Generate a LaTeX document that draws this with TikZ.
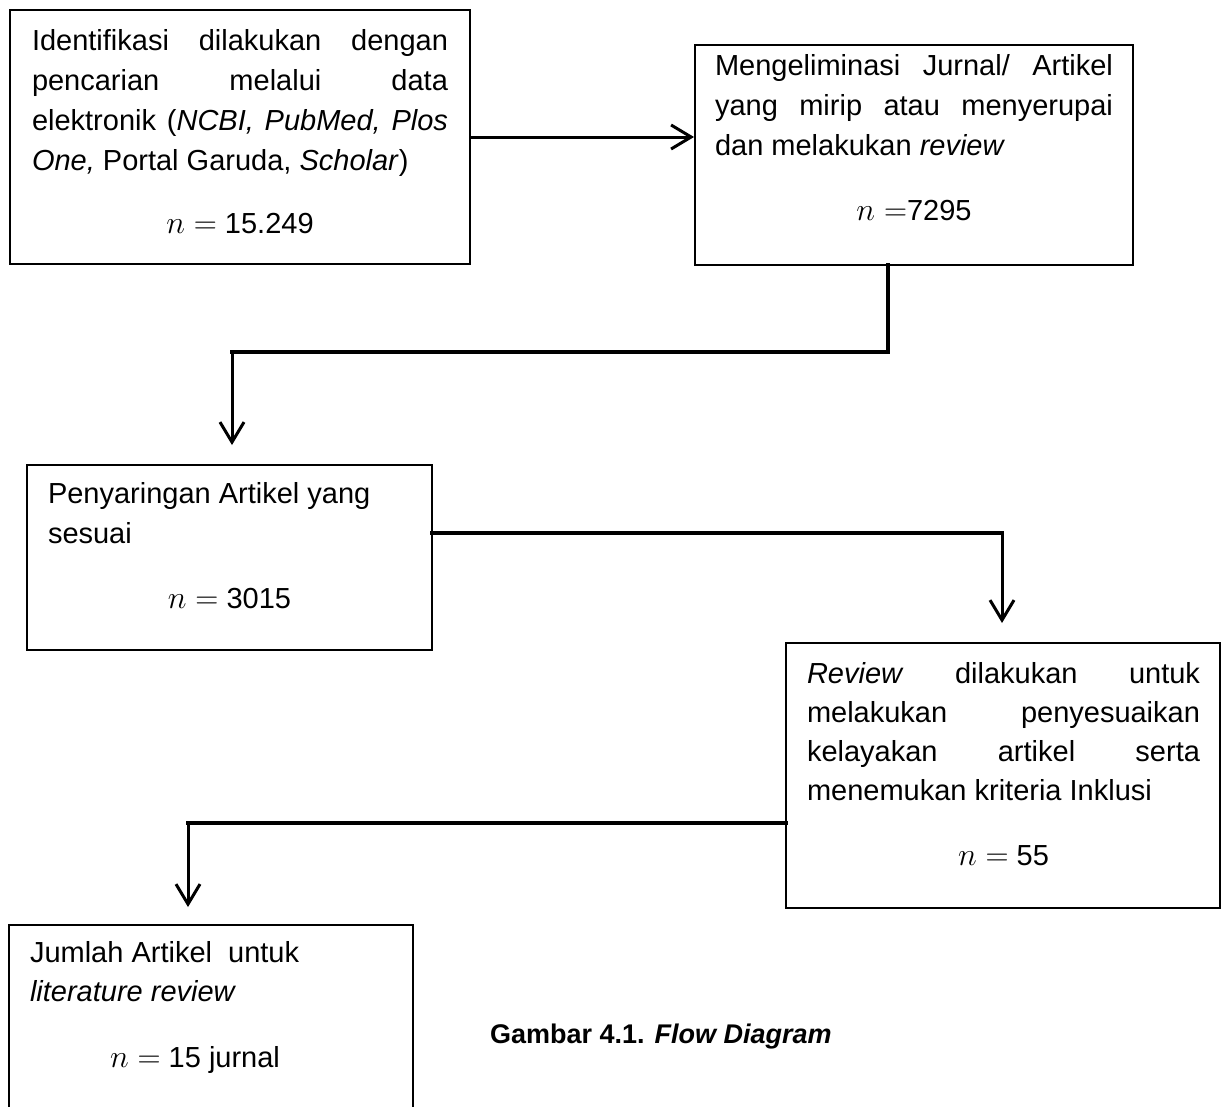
\RequirePackage{fix-cm}
\documentclass[tikz,border=0pt]{standalone}
\usepackage{fontspec}
\setmainfont{Liberation Sans}
\usetikzlibrary{arrows.meta}
\newcommand\lineJ[1]{\hbox to\hsize{#1}}
\newcommand\lineL[1]{\hbox to\hsize{#1\hfil}}
\newcommand\lineC[1]{\hbox to\hsize{\hfil#1\hfil}}
\newcommand\nEq{{\fontsize{32}{40}\selectfont$n=$}}
\tikzset{
  box/.style={draw=black, line width=1.5pt, inner sep=0pt, outer sep=0pt, anchor=north west},
  txt/.style={inner sep=0pt, outer sep=0pt, anchor=base west, font=\fontsize{29}{40}\selectfont},
  link/.style={draw=black, line width=4.5pt, line cap=rect},
  arr/.style={draw=black, line width=3pt, -{Straight Barb[length=20pt,width=24pt]}},
}
\begin{document}
\begin{tikzpicture}[x=1pt,y=-1pt]
\path[use as bounding box] (0,0) rectangle (1222,1106);
\clip (0,0) rectangle (1222,1106);
% boxes
\node[box, minimum width=460pt, minimum height=254pt] (b1) at (10,10) {};
\node[box, minimum width=438pt, minimum height=220pt] (b2) at (695,45) {};
\node[box, minimum width=405pt, minimum height=185pt] (b3) at (27,465) {};
\node[box, minimum width=434pt, minimum height=265pt] (b4) at (786,643) {};
\node[box, minimum width=404pt, minimum height=220pt] (b5) at (9,925) {};
% texts
\node[txt] (t1) at (32,50) {\parbox[t]{416pt}{%
\lineJ{Identifikasi\hfill dilakukan\hfill dengan}
\lineJ{pencarian\hfill melalui\hfill data}
\lineJ{elektronik\hfill(\textit{NCBI,}\hfill\textit{PubMed,}\hfill\textit{Plos}}
\lineL{\textit{One,} Portal Garuda, \textit{Scholar})}
\vskip 23pt
\lineC{\nEq\ 15.249}}};
\node[txt] (t2) at (715,75) {\parbox[t]{398pt}{%
\lineJ{Mengeliminasi\hfill Jurnal/\hfill Artikel}
\lineJ{yang\hfill mirip\hfill atau\hfill menyerupai}
\lineL{dan melakukan \textit{review}}
\vskip 25pt
\lineC{\nEq7295}}};
\node[txt] (t3) at (48,503) {\parbox[t]{363pt}{%
\lineL{Penyaringan Artikel yang}
\lineL{sesuai}
\vskip 25pt
\lineC{\nEq\ 3015}}};
\node[txt] (t4) at (807,683) {\parbox[t]{393pt}{\baselineskip=39.3pt
\lineJ{\textit{Review}\hfill dilakukan\hfill untuk}
\lineJ{melakukan\hfill penyesuaikan}
\lineJ{kelayakan\hfill artikel\hfill serta}
\lineL{menemukan kriteria Inklusi}
\vskip 25pt
\lineC{\nEq\ 55}}};
\node[txt] (t5) at (30,962) {\parbox[t]{330pt}{\baselineskip=39pt
\lineL{Jumlah Artikel\ \ untuk}
\lineL{\textit{literature review}}
\vskip 27pt
\lineC{\nEq\ 15 jurnal}}};
\node[txt, font=\fontsize{27}{32}\selectfont\bfseries] (cap) at (490,1043) {Gambar 4.1. \textit{Flow Diagram}};
% connectors
\coordinate (c0) at (888,352);
\coordinate (c1) at (232,352);
\coordinate (c2) at (1002,533);
\coordinate (c3) at (188,823);
\draw[arr, shorten >=1pt] (b1.east) -- (b2.west |- b1.east);
\draw[link] (c0 |- b2.south) -- (c0) -- (c1);
\draw[arr, shorten >=20pt] (c1) -- (c1 |- b3.north);
\draw[link, line width=4pt] (b3.east |- c2) -- (c2);
\draw[arr, shorten >=20pt] (c2) -- (c2 |- b4.north);
\draw[link, line width=4pt] (b4.west |- c3) -- (c3);
\draw[arr, shorten >=18pt] (c3) -- (c3 |- b5.north);
\end{tikzpicture}
\end{document}
